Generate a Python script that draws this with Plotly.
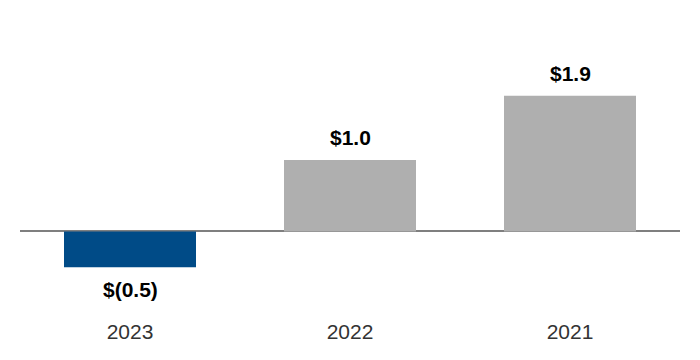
import plotly.graph_objects as go

categories = ["2023", "2022", "2021"]
values = [-0.5, 1.0, 1.9]
value_labels = ["$(0.5)", "$1.0", "$1.9"]
bar_colors = ["#004B87", "#AFAFAF", "#AFAFAF"]

fig = go.Figure()
fig.add_trace(go.Bar(
    x=categories, y=values,
    marker=dict(color=bar_colors, line=dict(width=0)),
    width=0.6,
    hoverinfo="skip",
))

for i, (v, t) in enumerate(zip(values, value_labels)):
    fig.add_annotation(
        x=i, y=v, xref="x", yref="y", text=f"<b>{t}</b>",
        showarrow=False, yshift=22 if v >= 0 else -22,
        font=dict(family="Arial, Liberation Sans, sans-serif", size=21, color="#000000"),
    )

fig.update_layout(
    width=700, height=360,
    margin=dict(l=20, r=20, t=17, b=43),
    paper_bgcolor="white", plot_bgcolor="white",
    showlegend=False,
    font=dict(family="Arial, Liberation Sans, sans-serif"),
    bargap=0.4,
)
fig.update_xaxes(
    type="category", range=[-0.5, len(categories) - 0.5],
    showgrid=False, showline=False, ticks="",
    tickfont=dict(size=21, color="#333333"),
)
fig.update_yaxes(
    range=[-1.196, 3.0],
    showgrid=False, showticklabels=False, ticks="",
    zeroline=True, zerolinecolor="#7F7F7F", zerolinewidth=2,
)

fig.write_html("out.html")
